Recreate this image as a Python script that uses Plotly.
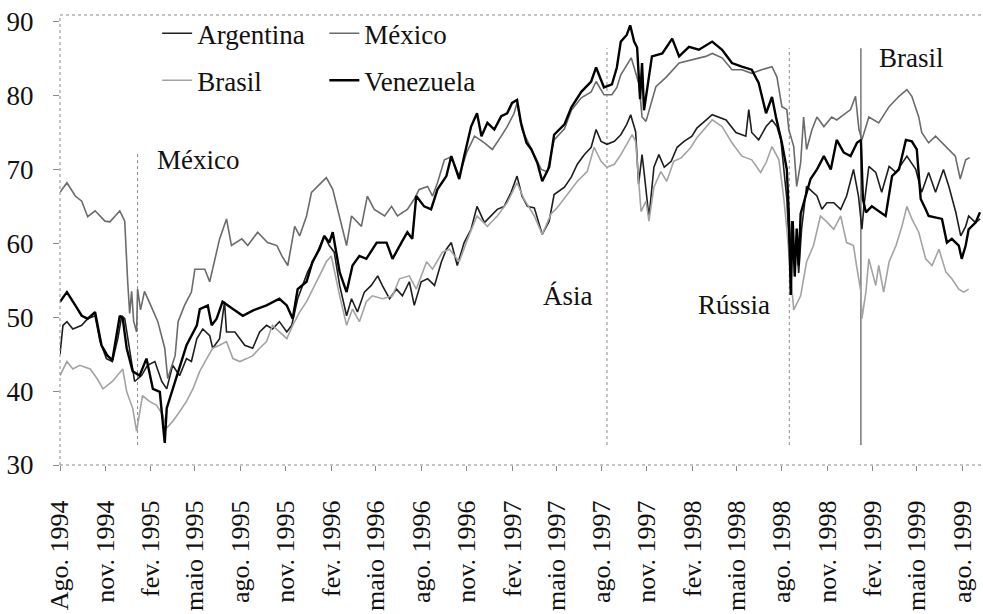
import plotly.graph_objects as go

# ---------------- data ----------------
tick_dates = ["1994-08-01", "1994-11-01", "1995-02-01", "1995-05-01", "1995-08-01", "1995-11-01",
              "1996-02-01", "1996-05-01", "1996-08-01", "1996-11-01", "1997-02-01", "1997-05-01",
              "1997-08-01", "1997-11-01", "1998-02-01", "1998-05-01", "1998-08-01", "1998-11-01",
              "1999-02-01", "1999-05-01", "1999-08-01"]
tick_labels = ["Ago. 1994", "nov. 1994", "fev. 1995", "maio 1995", "ago. 1995", "nov. 1995",
               "fev. 1996", "maio 1996", "ago. 1996", "nov. 1996", "fev. 1997", "maio 1997",
               "ago. 1997", "nov. 1997", "fev. 1998", "maio 1998", "ago. 1998", "nov. 1998",
               "fev. 1999", "maio 1999", "ago. 1999"]

mex_dates = ["1994-08-01", "1994-08-15", "1994-09-01", "1994-09-14", "1994-09-26", "1994-10-11",
             "1994-10-31", "1994-11-10", "1994-11-30", "1994-12-10", "1994-12-16", "1994-12-20",
             "1994-12-24", "1994-12-28", "1995-01-03", "1995-01-05", "1995-01-11", "1995-01-19",
             "1995-01-29", "1995-02-09", "1995-02-15", "1995-03-01", "1995-03-07", "1995-03-22",
             "1995-03-28", "1995-04-10", "1995-04-24", "1995-05-01", "1995-05-21", "1995-05-31",
             "1995-06-10", "1995-06-20", "1995-07-04", "1995-07-14", "1995-08-04", "1995-08-16",
             "1995-09-05", "1995-09-25", "1995-10-14", "1995-10-24", "1995-11-05", "1995-11-19",
             "1995-11-29", "1995-12-13", "1995-12-23", "1996-01-04", "1996-01-22", "1996-02-04",
             "1996-02-18", "1996-03-03", "1996-03-13", "1996-04-02", "1996-04-14", "1996-04-28",
             "1996-05-19", "1996-06-02", "1996-06-14", "1996-07-04", "1996-07-18", "1996-07-28",
             "1996-08-14", "1996-08-24", "1996-09-03", "1996-09-17", "1996-10-01", "1996-10-17",
             "1996-11-01", "1996-11-17", "1996-12-07", "1996-12-23", "1997-01-10", "1997-01-22",
             "1997-02-05", "1997-02-11", "1997-02-21", "1997-03-12", "1997-04-01", "1997-04-13",
             "1997-04-27", "1997-05-18", "1997-06-01", "1997-06-21", "1997-07-11", "1997-07-21",
             "1997-08-06", "1997-08-22", "1997-09-01", "1997-09-09", "1997-09-30", "1997-10-06",
             "1997-10-16", "1997-10-22", "1997-10-30", "1997-11-19", "1997-12-10", "1998-01-05",
             "1998-01-31", "1998-02-28", "1998-03-13", "1998-04-02", "1998-04-22", "1998-05-12",
             "1998-06-01", "1998-06-21", "1998-07-12", "1998-07-22", "1998-08-01", "1998-08-11",
             "1998-08-15", "1998-08-25", "1998-08-31", "1998-09-08", "1998-09-14", "1998-09-20",
             "1998-10-01", "1998-10-11", "1998-10-25", "1998-11-10", "1998-11-20", "1998-12-08",
             "1998-12-18", "1998-12-28", "1999-01-04", "1999-01-10", "1999-01-24", "1999-02-13",
             "1999-03-06", "1999-03-26", "1999-04-11", "1999-04-21", "1999-05-05", "1999-05-11",
             "1999-05-25", "1999-06-08", "1999-06-28", "1999-07-18", "1999-07-28", "1999-08-08",
             "1999-08-16"]
mex_values = [66.9, 68.2, 66.4, 65.7, 63.6, 64.4,
              63.0, 62.9, 64.4, 63.0, 54.8, 50.5,
              53.5, 49.5, 48.0, 53.8, 51.0, 53.5,
              52.0, 50.2, 49.4, 45.8, 41.7, 44.8,
              49.4, 51.6, 53.4, 56.5, 56.5, 54.8,
              57.9, 60.6, 63.3, 59.7, 60.6, 59.7,
              61.5, 60.1, 59.7, 58.3, 57.0, 62.3,
              61.0, 63.7, 66.9, 67.7, 68.9, 67.3,
              63.7, 59.7, 63.7, 62.3, 66.4, 64.6,
              63.7, 65.0, 63.7, 64.6, 66.0, 67.3,
              67.7, 66.4, 68.2, 71.3, 71.7, 69.1,
              72.3, 74.5, 73.6, 72.7, 74.5, 75.8,
              77.6, 79.0, 75.4, 72.7, 70.0, 69.7,
              74.0, 75.5, 78.0, 79.7, 80.5, 81.9,
              80.1, 80.1, 81.1, 82.8, 85.1, 83.8,
              81.5, 77.1, 76.5, 81.2, 82.5, 84.4,
              84.8, 85.3, 85.7, 85.1, 83.5, 83.5,
              83.0, 83.5, 83.9, 82.5, 78.5, 78.1,
              75.4, 73.1, 67.7, 70.9, 77.1, 72.7,
              75.4, 77.1, 75.8, 77.1, 76.7, 77.6,
              78.1, 79.9, 75.4, 74.0, 77.1, 76.3,
              78.5, 79.9, 80.8, 79.9, 77.1, 75.0,
              73.6, 74.5, 73.1, 71.8, 68.7, 71.3,
              71.6]

ven_dates = ["1994-08-01", "1994-08-15", "1994-09-01", "1994-09-14", "1994-09-26", "1994-10-11",
             "1994-10-24", "1994-11-05", "1994-11-15", "1994-11-30", "1994-12-06", "1994-12-14",
             "1994-12-26", "1995-01-09", "1995-01-23", "1995-02-05", "1995-02-19", "1995-03-01",
             "1995-03-05", "1995-03-17", "1995-03-31", "1995-04-14", "1995-05-05", "1995-05-11",
             "1995-05-27", "1995-06-04", "1995-06-14", "1995-06-26", "1995-07-17", "1995-08-06",
             "1995-08-26", "1995-09-23", "1995-10-19", "1995-11-03", "1995-11-15", "1995-11-25",
             "1995-12-13", "1995-12-25", "1996-01-08", "1996-01-18", "1996-01-28", "1996-02-04",
             "1996-02-18", "1996-03-03", "1996-03-15", "1996-03-29", "1996-04-12", "1996-05-03",
             "1996-05-23", "1996-06-04", "1996-06-22", "1996-07-04", "1996-07-14", "1996-07-22",
             "1996-08-07", "1996-08-21", "1996-09-03", "1996-09-21", "1996-10-01", "1996-10-17",
             "1996-10-27", "1996-11-10", "1996-11-22", "1996-12-01", "1996-12-13", "1996-12-27",
             "1997-01-10", "1997-01-22", "1997-02-01", "1997-02-11", "1997-02-19", "1997-03-02",
             "1997-03-12", "1997-03-24", "1997-04-03", "1997-04-17", "1997-04-27", "1997-05-18",
             "1997-06-01", "1997-06-21", "1997-07-11", "1997-07-21", "1997-08-06", "1997-08-22",
             "1997-09-01", "1997-09-09", "1997-09-21", "1997-09-28", "1997-10-06", "1997-10-12",
             "1997-10-18", "1997-10-22", "1997-10-26", "1997-11-11", "1997-12-02", "1997-12-22",
             "1998-01-05", "1998-01-25", "1998-02-14", "1998-03-13", "1998-04-02", "1998-04-22",
             "1998-05-12", "1998-06-01", "1998-06-15", "1998-06-30", "1998-07-12", "1998-07-20",
             "1998-08-01", "1998-08-11", "1998-08-15", "1998-08-19", "1998-08-23", "1998-08-27",
             "1998-08-31", "1998-09-04", "1998-09-08", "1998-09-14", "1998-09-28", "1998-10-11",
             "1998-10-25", "1998-11-08", "1998-11-20", "1998-12-04", "1998-12-18", "1998-12-31",
             "1999-01-08", "1999-01-12", "1999-01-18", "1999-01-30", "1999-02-27", "1999-03-12",
             "1999-03-26", "1999-04-09", "1999-04-21", "1999-05-01", "1999-05-09", "1999-05-19",
             "1999-05-25", "1999-06-21", "1999-07-01", "1999-07-11", "1999-07-25", "1999-07-31",
             "1999-08-08", "1999-08-14", "1999-08-28", "1999-09-06"]
ven_values = [52.1, 53.4, 51.6, 50.2, 49.8, 50.7,
              46.2, 44.8, 44.2, 50.2, 49.8, 45.8,
              42.7, 42.1, 44.4, 40.3, 39.9, 33.0,
              37.7, 40.3, 43.0, 46.2, 48.9, 51.1,
              51.6, 48.9, 49.8, 52.1, 51.1, 50.2,
              50.9, 51.6, 52.5, 51.6, 49.8, 53.8,
              54.8, 57.5, 59.2, 61.0, 60.1, 61.5,
              56.1, 53.4, 57.0, 58.3, 57.9, 60.1,
              60.1, 57.9, 60.1, 61.5, 60.6, 66.4,
              65.0, 64.6, 67.3, 69.1, 71.8, 68.7,
              71.8, 75.8, 77.6, 74.5, 76.3, 75.4,
              77.2, 77.6, 79.0, 79.4, 76.3, 73.6,
              72.7, 70.9, 68.4, 70.3, 74.7, 76.1,
              78.4, 80.5, 81.9, 83.8, 81.1, 81.5,
              83.8, 87.3, 88.2, 89.5, 87.3, 86.5,
              79.5, 84.4, 78.0, 85.3, 85.7, 87.7,
              85.3, 86.6, 86.2, 87.3, 86.2, 84.4,
              83.9, 83.5, 81.7, 77.6, 79.8, 77.1,
              73.6, 70.0, 64.0, 53.0, 63.0, 55.5,
              62.0, 57.0, 64.0, 65.5, 68.7, 70.0,
              71.8, 70.0, 74.0, 72.3, 71.8, 73.6,
              74.0, 66.0, 64.2, 65.0, 63.7, 69.1,
              70.0, 74.0, 73.8, 72.7, 66.0, 64.6,
              63.7, 63.3, 60.1, 60.6, 59.7, 57.9,
              59.7, 61.9, 62.8, 64.2]

arg_dates = ["1994-08-01", "1994-08-07", "1994-08-15", "1994-08-27", "1994-09-14", "1994-09-26",
             "1994-10-11", "1994-10-21", "1994-11-03", "1994-11-15", "1994-11-26", "1994-12-04",
             "1994-12-10", "1994-12-20", "1994-12-30", "1995-01-13", "1995-01-25", "1995-02-09",
             "1995-02-23", "1995-03-05", "1995-03-17", "1995-03-31", "1995-04-14", "1995-04-24",
             "1995-05-05", "1995-05-17", "1995-05-31", "1995-06-06", "1995-06-20", "1995-06-30",
             "1995-07-04", "1995-07-21", "1995-08-10", "1995-08-26", "1995-09-09", "1995-09-23",
             "1995-10-05", "1995-10-19", "1995-11-03", "1995-11-13", "1995-11-25", "1995-12-15",
             "1995-12-29", "1996-01-18", "1996-01-28", "1996-02-07", "1996-02-18", "1996-03-03",
             "1996-03-13", "1996-03-25", "1996-04-08", "1996-04-22", "1996-05-05", "1996-05-15",
             "1996-05-29", "1996-06-12", "1996-06-24", "1996-07-08", "1996-07-18", "1996-08-01",
             "1996-08-14", "1996-08-28", "1996-09-11", "1996-09-21", "1996-10-01", "1996-10-13",
             "1996-10-27", "1996-11-10", "1996-11-22", "1996-12-07", "1996-12-21", "1997-01-02",
             "1997-01-16", "1997-01-30", "1997-02-11", "1997-02-21", "1997-03-04", "1997-03-18",
             "1997-04-03", "1997-04-17", "1997-04-27", "1997-05-18", "1997-06-01", "1997-06-13",
             "1997-06-27", "1997-07-11", "1997-07-21", "1997-07-31", "1997-08-12", "1997-08-27",
             "1997-09-09", "1997-09-21", "1997-09-29", "1997-10-09", "1997-10-15", "1997-10-22",
             "1997-10-26", "1997-11-05", "1997-11-15", "1997-11-25", "1997-12-06", "1997-12-20",
             "1998-01-01", "1998-01-15", "1998-01-31", "1998-02-10", "1998-03-13", "1998-04-10",
             "1998-04-30", "1998-05-20", "1998-05-26", "1998-06-01", "1998-06-15", "1998-06-30",
             "1998-07-12", "1998-07-22", "1998-07-30", "1998-08-05", "1998-08-11", "1998-08-17",
             "1998-08-21", "1998-08-27", "1998-08-31", "1998-09-04", "1998-09-10", "1998-09-20",
             "1998-10-11", "1998-10-21", "1998-10-31", "1998-11-14", "1998-11-28", "1998-12-10",
             "1998-12-24", "1999-01-03", "1999-01-10", "1999-01-14", "1999-01-24", "1999-02-07",
             "1999-02-19", "1999-03-06", "1999-03-20", "1999-04-11", "1999-04-29", "1999-05-11",
             "1999-05-25", "1999-06-08", "1999-06-24", "1999-07-05", "1999-07-19", "1999-07-29",
             "1999-08-08", "1999-08-14", "1999-08-28", "1999-09-06"]
arg_values = [45.0, 48.9, 49.4, 48.4, 48.9, 49.8,
              50.2, 46.7, 44.4, 44.0, 47.1, 50.2,
              49.8, 45.8, 41.3, 42.1, 43.5, 44.0,
              41.3, 40.3, 43.5, 42.1, 44.4, 44.0,
              47.1, 48.4, 47.5, 45.8, 47.1, 52.1,
              48.0, 48.0, 46.2, 45.8, 48.0, 48.9,
              48.4, 49.4, 48.0, 48.9, 52.5, 56.1,
              57.9, 61.0, 59.7, 58.8, 54.3, 50.2,
              52.5, 50.7, 53.4, 54.3, 55.6, 54.2,
              52.5, 53.8, 52.9, 54.8, 51.6, 54.8,
              55.2, 54.3, 57.5, 59.2, 60.1, 57.0,
              60.1, 61.9, 65.0, 62.8, 63.7, 64.6,
              65.0, 66.9, 69.1, 66.4, 65.0, 64.8,
              61.2, 63.0, 66.6, 67.6, 69.0, 70.7,
              72.0, 73.0, 75.4, 73.8, 73.4, 73.8,
              74.7, 76.1, 77.4, 75.1, 68.0, 72.0,
              69.7, 63.5, 70.3, 72.0, 70.3, 71.1,
              73.0, 73.8, 74.5, 75.6, 77.4, 76.7,
              75.0, 74.5, 78.1, 75.0, 74.0, 75.8,
              76.7, 75.8, 74.0, 70.4, 66.0, 58.0,
              63.0, 57.0, 60.0, 56.0, 62.0, 67.7,
              66.4, 64.6, 65.5, 65.5, 64.6, 66.4,
              70.0, 66.4, 61.9, 65.0, 70.4, 69.6,
              66.9, 70.4, 69.6, 71.8, 70.0, 66.9,
              69.6, 66.9, 70.0, 67.7, 64.2, 61.0,
              62.3, 63.7, 62.8, 63.3]

bra_dates = ["1994-08-01", "1994-08-05", "1994-08-15", "1994-08-27", "1994-09-10", "1994-10-01",
             "1994-10-15", "1994-10-27", "1994-11-15", "1994-12-06", "1994-12-14", "1994-12-26",
             "1995-01-03", "1995-01-15", "1995-01-29", "1995-02-12", "1995-02-25", "1995-03-05",
             "1995-03-17", "1995-03-31", "1995-04-14", "1995-04-27", "1995-05-11", "1995-05-25",
             "1995-06-06", "1995-06-20", "1995-07-04", "1995-07-17", "1995-07-31", "1995-08-14",
             "1995-08-26", "1995-09-09", "1995-09-23", "1995-10-05", "1995-10-19", "1995-11-03",
             "1995-11-15", "1995-11-29", "1995-12-13", "1995-12-25", "1996-01-08", "1996-01-22",
             "1996-02-01", "1996-02-18", "1996-03-03", "1996-03-15", "1996-03-29", "1996-04-12",
             "1996-04-24", "1996-05-15", "1996-06-04", "1996-06-18", "1996-07-08", "1996-07-22",
             "1996-08-12", "1996-08-24", "1996-09-13", "1996-09-27", "1996-10-17", "1996-11-03",
             "1996-11-22", "1996-12-13", "1997-01-02", "1997-01-22", "1997-02-11", "1997-02-25",
             "1997-03-18", "1997-04-03", "1997-04-21", "1997-05-03", "1997-05-24", "1997-06-13",
             "1997-07-03", "1997-07-17", "1997-07-31", "1997-08-12", "1997-08-27", "1997-09-09",
             "1997-09-21", "1997-10-02", "1997-10-09", "1997-10-20", "1997-10-30", "1997-11-05",
             "1997-11-15", "1997-11-29", "1997-12-11", "1997-12-25", "1998-01-10", "1998-01-29",
             "1998-02-10", "1998-03-13", "1998-04-02", "1998-04-22", "1998-05-12", "1998-06-01",
             "1998-06-19", "1998-06-30", "1998-07-12", "1998-07-26", "1998-08-05", "1998-08-11",
             "1998-08-25", "1998-09-08", "1998-09-20", "1998-10-04", "1998-10-18", "1998-10-31",
             "1998-11-14", "1998-11-28", "1998-12-10", "1998-12-24", "1998-12-30", "1999-01-08",
             "1999-01-10", "1999-01-18", "1999-01-24", "1999-02-07", "1999-02-13", "1999-02-23",
             "1999-03-06", "1999-03-20", "1999-04-01", "1999-04-11", "1999-04-21", "1999-05-05",
             "1999-05-19", "1999-06-01", "1999-06-15", "1999-06-29", "1999-07-11", "1999-07-25",
             "1999-08-04", "1999-08-14"]
bra_values = [42.1, 42.7, 44.0, 43.0, 43.5, 43.0,
              41.7, 40.3, 41.3, 43.0, 39.9, 37.7,
              34.6, 39.4, 38.6, 38.1, 36.8, 35.0,
              35.9, 37.2, 38.6, 40.3, 42.7, 44.4,
              45.8, 46.2, 46.7, 44.4, 44.0, 44.4,
              44.8, 45.8, 46.7, 48.9, 48.0, 47.1,
              48.9, 50.7, 52.1, 53.8, 55.6, 57.5,
              58.3, 52.9, 48.9, 51.1, 49.4, 52.1,
              52.9, 52.5, 52.9, 55.2, 55.6, 53.8,
              57.5, 56.5, 58.8, 59.2, 57.5, 60.6,
              63.7, 62.3, 63.7, 65.5, 68.2, 66.0,
              63.7, 61.2, 64.0, 64.8, 66.6, 68.4,
              69.7, 73.0, 71.1, 70.3, 70.7, 72.0,
              73.4, 74.7, 73.8, 64.3, 65.7, 63.0,
              67.6, 69.7, 68.4, 71.1, 71.6, 73.0,
              74.3, 76.7, 75.8, 73.6, 71.8, 71.3,
              69.6, 70.9, 73.1, 71.3, 66.0, 61.9,
              51.0, 52.9, 57.5, 59.7, 63.7, 62.9,
              61.9, 63.7, 60.1, 59.7, 57.0, 53.4,
              49.8, 53.4, 57.9, 54.3, 57.0, 53.4,
              57.5, 59.7, 62.3, 65.0, 63.3, 61.5,
              57.9, 57.0, 59.2, 56.1, 55.2, 53.8,
              53.4, 53.8]

crisis_names = ["México", "Ásia", "Rússia", "Brasil"]
crisis_dates = ["1995-01-05", "1997-08-12", "1998-08-16", "1999-01-08"]
crisis_tops = [72.3, 86.4, 86.4, 86.4]
crisis_bottom = 32.7

# ---------------- figure ----------------
FONT = "Liberation Serif"
fig = go.Figure()

series = [
    ("Argentina", arg_dates, arg_values, "#1e1e1e", 1.6, "legend"),
    ("Brasil", bra_dates, bra_values, "#a3a3a3", 1.6, "legend"),
    ("México", mex_dates, mex_values, "#6b6b6b", 1.6, "legend2"),
    ("Venezuela", ven_dates, ven_values, "#000000", 2.4, "legend2"),
]
for name, d, v, col, w, lg in series:
    fig.add_trace(go.Scatter(x=d, y=v, mode="lines", name=name,
                             line=dict(color=col, width=w),
                             legend=lg, legendgroup=name))

# crisis vertical lines
for nm, dt, top in zip(crisis_names, crisis_dates, crisis_tops):
    fig.add_shape(type="line", xref="x", yref="y", x0=dt, x1=dt, y0=crisis_bottom, y1=top,
                  line=dict(color="#333333" if nm == "Brasil" else "#8a8a8a", width=1,
                            dash="solid" if nm == "Brasil" else "dot"),
                  layer="below")

label_pos = {"México": ("1995-02-09", 71.3), "Ásia": ("1997-04-01", 52.9),
             "Rússia": ("1998-02-09", 51.6), "Brasil": ("1999-02-09", 85.1)}
for nm in crisis_names:
    xx, yy = label_pos[nm]
    fig.add_annotation(x=xx, y=yy, text=nm, showarrow=False, xanchor="left", yanchor="middle",
                       font=dict(family=FONT, size=27, color="#111"))

# frame (dotted)
for (x0, y0, x1, y1) in [(0, 0, 0, 1), (0, 1, 1, 1), (0, 0, 1, 0)]:
    fig.add_shape(type="line", xref="paper", yref="paper", x0=x0, y0=y0, x1=x1, y1=y1,
                  line=dict(color="#8a8a8a", width=1, dash="dot"))

fig.update_layout(
    width=983, height=614,
    margin=dict(l=60, r=2, t=15, b=149, autoexpand=False),
    paper_bgcolor="white", plot_bgcolor="white",
    font=dict(family=FONT, size=27, color="#111"),
    showlegend=True,
    legend=dict(x=0.1055, y=1.013, xanchor="left", yanchor="top", bgcolor="rgba(0,0,0,0)",
                font=dict(family=FONT, size=27), traceorder="grouped", tracegroupgap=9,
                itemwidth=30),
    legend2=dict(x=0.287, y=1.013, xanchor="left", yanchor="top", bgcolor="rgba(0,0,0,0)",
                 font=dict(family=FONT, size=27), traceorder="grouped", tracegroupgap=9,
                 itemwidth=30),
    xaxis=dict(type="date", range=["1994-08-01", "1999-09-08"], automargin=False,
               tickvals=tick_dates, ticktext=tick_labels, tickangle=-90,
               ticks="outside", ticklen=5, tickcolor="#8a8a8a",
               showgrid=False, zeroline=False, showline=False,
               tickfont=dict(family=FONT, size=26, color="#111"),
               ticklabelstandoff=19),
    yaxis=dict(range=[30, 90.9], tickvals=[30, 40, 50, 60, 70, 80, 90], automargin=False,
               ticks="outside", ticklen=6, tickcolor="#8a8a8a",
               showgrid=False, zeroline=False, showline=False,
               tickfont=dict(family=FONT, size=27, color="#111"),
               ticklabelstandoff=14),
)

fig.write_html("out.html", config={"displayModeBar": False},
               post_script="document.body.style.margin='0px';document.body.style.overflow='hidden';")
